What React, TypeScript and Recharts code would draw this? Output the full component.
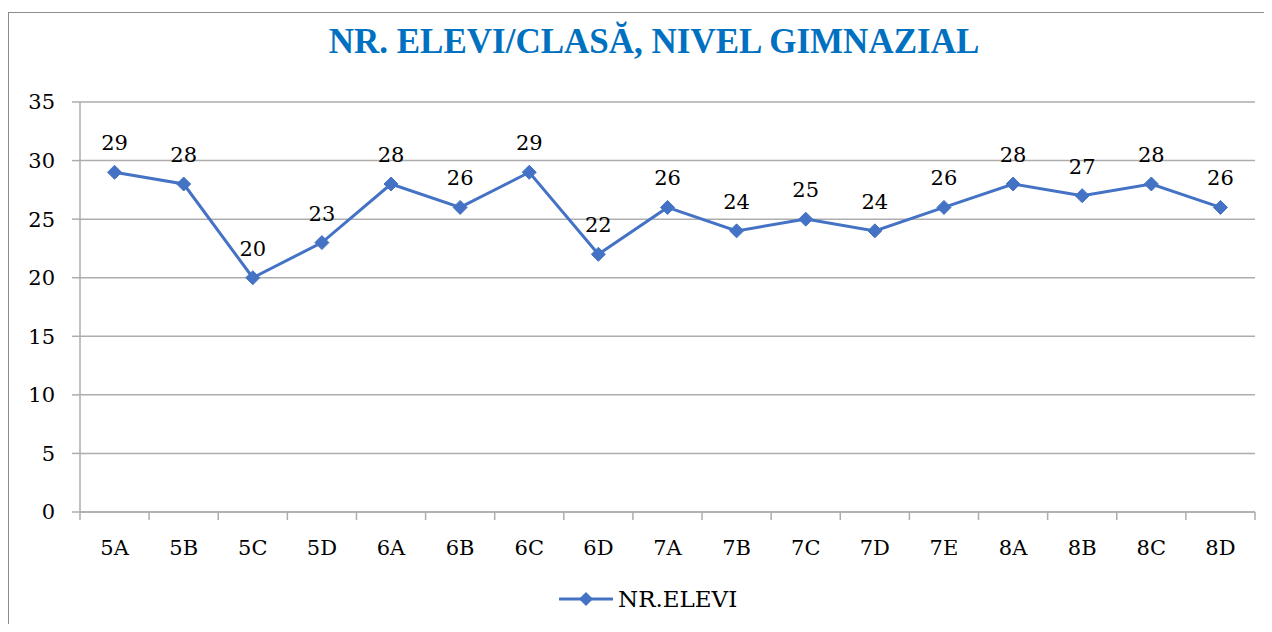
import React from 'react';
import { LineChart, Line, XAxis, YAxis, CartesianGrid, LabelList } from 'recharts';

const categories = ['5A', '5B', '5C', '5D', '6A', '6B', '6C', '6D', '7A', '7B', '7C', '7D', '7E', '8A', '8B', '8C', '8D'];
const students = [29, 28, 20, 23, 28, 26, 29, 22, 26, 24, 25, 24, 26, 28, 27, 28, 26];
const yTicks = [0, 5, 10, 15, 20, 25, 30, 35];

const title = 'NR. ELEVI/CLASĂ, NIVEL GIMNAZIAL';
const seriesName = 'NR.ELEVI';

const BLUE = '#4472C4';
const GRID = '#ADADAD';
const FONT = '"DejaVu Serif", "Liberation Serif", serif';

const data = categories.map((name, i) => ({ name, x: i + 0.5, value: students[i] }));
// integer ticks = category boundaries (tick marks), half ticks = category labels
const xTicks: number[] = [];
for (let i = 0; i <= categories.length; i++) {
    xTicks.push(i);
    if (i < categories.length) xTicks.push(i + 0.5);
}

const Diamond = (props: any) => {
    const { cx, cy } = props;
    if (cx == null || cy == null) return null;
    const r = 7;
    return <path d={`M${cx} ${cy - r} L${cx + r} ${cy} L${cx} ${cy + r} L${cx - r} ${cy} Z`} fill={BLUE} stroke={BLUE} strokeWidth={1} />;
};

const XTick = (props: any) => {
    const { x, y, payload } = props;
    const v = payload.value;
    if (Number.isInteger(v)) {
        return <line x1={x} y1={y} x2={x} y2={y + 8} stroke={GRID} strokeWidth={1.5} />;
    }
    return (
        <text x={x} y={y + 28} dy="0.71em" textAnchor="middle" fill="#000" fontSize={21} fontFamily={FONT}>
            {categories[Math.round(v - 0.5)]}
        </text>
    );
};

export default function App() {
    return (
        <div style={{ position: 'relative', width: 1264, height: 616, overflow: 'hidden', fontFamily: FONT }}>
            {/* chart frame, only left/top edges show in the shot */}
            <div style={{ position: 'absolute', left: 0, top: 4, width: 1400, height: 800, borderLeft: '1px solid #8C8C8C', borderTop: '1px solid #8C8C8C' }} />

            <div style={{ position: 'absolute', left: 0, width: 1292, top: 16, textAlign: 'center', fontFamily: '"Liberation Serif", serif', fontWeight: 'bold', fontSize: 35, color: '#0070C0', lineHeight: '36px' }}>
                {title}
            </div>

            <div style={{ position: 'absolute', left: 0, top: 0 }}>
                <LineChart width={1264} height={616} data={data} margin={{ top: 94, right: 17, left: 12, bottom: 72 }}>
                    <CartesianGrid horizontal vertical={false} stroke={GRID} strokeWidth={1.5} />
                    <XAxis dataKey="x" type="number" domain={[0, categories.length]} ticks={xTicks} height={40}
                        axisLine={{ stroke: GRID, strokeWidth: 1.5 }} tickLine={false} tickSize={0} tickMargin={0} interval={0}
                        tick={<XTick />} />
                    <YAxis domain={[0, 35]} ticks={yTicks} width={60} interval={0}
                        axisLine={{ stroke: GRID, strokeWidth: 1.5 }} tickLine={{ stroke: GRID, strokeWidth: 1.5 }} tickSize={8} tickMargin={17}
                        tick={{ fill: '#000', fontSize: 21, fontFamily: FONT }} />
                    <Line type="linear" dataKey="value" stroke={BLUE} strokeWidth={3} dot={<Diamond />} activeDot={false} isAnimationActive={false}>
                        <LabelList dataKey="value" position="top" offset={22} fill="#000" fontSize={21} fontFamily={FONT} />
                    </Line>
                </LineChart>
            </div>

            {/* legend */}
            <div style={{ position: 'absolute', left: 551, top: 578, display: 'flex', alignItems: 'center', gap: 5 }}>
                <svg width={54} height={16}>
                    <line x1={1} y1={8} x2={53} y2={8} stroke={BLUE} strokeWidth={3} strokeLinecap="round" />
                    <path d="M27 1 L34 8 L27 15 L20 8 Z" fill={BLUE} />
                </svg>
                <span style={{ fontSize: 23, color: '#000', fontFamily: FONT }}>{seriesName}</span>
            </div>
        </div>
    );
}
